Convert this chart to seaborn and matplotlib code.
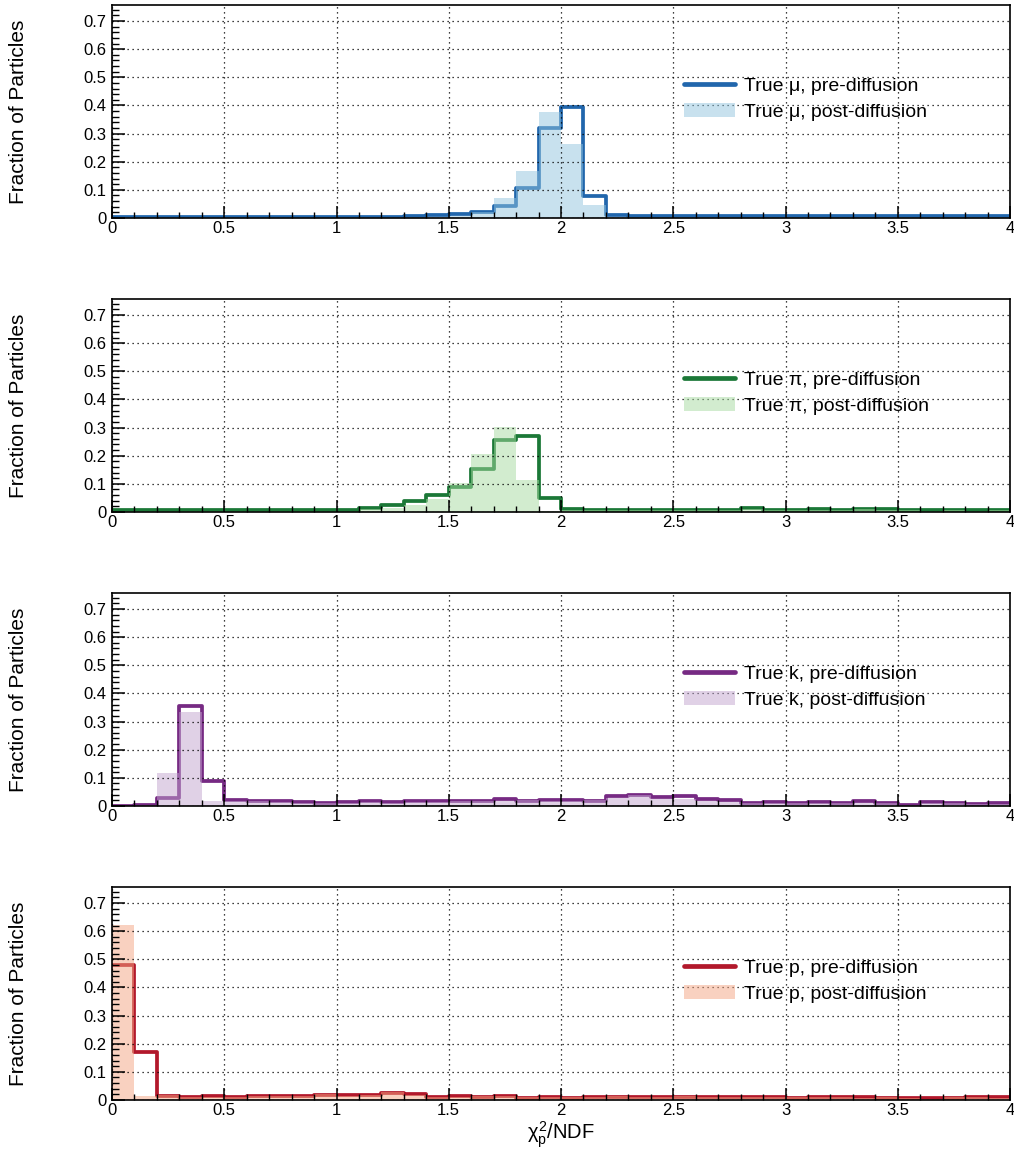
import numpy as np
import pandas as pd
import matplotlib
matplotlib.use("Agg")
import matplotlib.pyplot as plt
import seaborn as sns
from matplotlib.lines import Line2D
from matplotlib.patches import Patch
from matplotlib.ticker import MultipleLocator, FuncFormatter

# ---------------- data (fraction of particles per 0.1-wide bin, 0..4) ----------------
bin_edges = [round(0.1 * i, 1) for i in range(41)]

mu_pre = [0.003, 0.003, 0.003, 0.003, 0.003, 0.003, 0.003, 0.003, 0.003, 0.003,
          0.004, 0.004, 0.005, 0.007, 0.010, 0.014, 0.022, 0.043, 0.105, 0.319,
          0.395, 0.078, 0.010, 0.008, 0.007, 0.007, 0.008, 0.007, 0.007, 0.008,
          0.007, 0.007, 0.008, 0.007, 0.007, 0.008, 0.007, 0.007, 0.007, 0.007]
mu_post = [0.002, 0.002, 0.002, 0.002, 0.002, 0.002, 0.002, 0.002, 0.002, 0.002,
           0.002, 0.003, 0.003, 0.004, 0.005, 0.008, 0.020, 0.070, 0.168, 0.375,
           0.262, 0.046, 0.004, 0.005, 0.005, 0.005, 0.005, 0.005, 0.005, 0.005,
           0.005, 0.005, 0.005, 0.005, 0.005, 0.005, 0.005, 0.005, 0.005, 0.005]

pi_pre = [0.006, 0.006, 0.006, 0.006, 0.006, 0.006, 0.006, 0.006, 0.006, 0.008,
          0.006, 0.015, 0.025, 0.039, 0.060, 0.088, 0.152, 0.256, 0.270, 0.051,
          0.012, 0.007, 0.007, 0.007, 0.008, 0.008, 0.007, 0.008, 0.013, 0.008,
          0.007, 0.010, 0.008, 0.012, 0.009, 0.008, 0.008, 0.008, 0.007, 0.008]
pi_post = [0.004, 0.004, 0.004, 0.004, 0.004, 0.004, 0.004, 0.004, 0.004, 0.004,
           0.005, 0.010, 0.015, 0.025, 0.046, 0.102, 0.205, 0.303, 0.114, 0.005,
           0.006, 0.006, 0.006, 0.006, 0.006, 0.006, 0.006, 0.007, 0.010, 0.006,
           0.006, 0.008, 0.006, 0.009, 0.007, 0.006, 0.005, 0.006, 0.004, 0.006]

k_pre = [0.001, 0.003, 0.030, 0.355, 0.090, 0.021, 0.018, 0.017, 0.013, 0.012,
         0.013, 0.016, 0.014, 0.016, 0.018, 0.017, 0.018, 0.024, 0.018, 0.021,
         0.021, 0.019, 0.036, 0.038, 0.031, 0.034, 0.024, 0.020, 0.011, 0.015,
         0.012, 0.014, 0.011, 0.018, 0.011, 0.005, 0.014, 0.012, 0.008, 0.009]
k_post = [0.000, 0.002, 0.116, 0.335, 0.019, 0.016, 0.016, 0.015, 0.012, 0.011,
          0.012, 0.013, 0.012, 0.014, 0.015, 0.016, 0.017, 0.019, 0.020, 0.018,
          0.019, 0.020, 0.027, 0.040, 0.026, 0.024, 0.018, 0.014, 0.012, 0.012,
          0.011, 0.012, 0.010, 0.012, 0.010, 0.004, 0.011, 0.010, 0.008, 0.008]

p_pre = [0.480, 0.172, 0.015, 0.011, 0.014, 0.011, 0.014, 0.014, 0.014, 0.017,
         0.019, 0.017, 0.024, 0.021, 0.012, 0.013, 0.012, 0.014, 0.008, 0.012,
         0.008, 0.009, 0.010, 0.012, 0.010, 0.012, 0.010, 0.011, 0.011, 0.011,
         0.008, 0.009, 0.010, 0.009, 0.008, 0.008, 0.006, 0.008, 0.009, 0.009]
p_post = [0.622, 0.014, 0.018, 0.010, 0.012, 0.010, 0.013, 0.013, 0.015, 0.020,
          0.015, 0.017, 0.027, 0.016, 0.011, 0.012, 0.013, 0.013, 0.009, 0.010,
          0.009, 0.010, 0.014, 0.010, 0.011, 0.014, 0.011, 0.012, 0.009, 0.010,
          0.009, 0.011, 0.012, 0.008, 0.009, 0.006, 0.004, 0.009, 0.010, 0.008]

particle_labels = ["\u03bc", "\u03c0", "k", "p"]
pre_series = [mu_pre, pi_pre, k_pre, p_pre]
post_series = [mu_post, pi_post, k_post, p_post]
dark_colors = ["#2166ac", "#1b7837", "#762a83", "#b2182b"]
light_colors = ["#92c5de", "#a6dba0", "#c2a5cf", "#f4a582"]

# ---------------- style ----------------
sns.set_style("ticks")
plt.rcParams["font.family"] = ["Liberation Sans", "DejaVu Sans"]
plt.rcParams["mathtext.fontset"] = "custom"
plt.rcParams["mathtext.rm"] = "Liberation Sans"
plt.rcParams["mathtext.it"] = "Liberation Sans"
plt.rcParams["mathtext.bf"] = "Liberation Sans:bold"
for key in ["text.color", "axes.labelcolor", "xtick.color", "ytick.color",
            "axes.edgecolor"]:
    plt.rcParams[key] = "black"

W, H = 1014, 1157
fig = plt.figure(figsize=(W / 100, H / 100), dpi=100)

left_px, right_px = 112, 1010
panel_tops = [5, 299, 593, 887]
panel_h = 213

centers = [(bin_edges[j] + bin_edges[j + 1]) / 2 for j in range(40)]
fmt = FuncFormatter(lambda v, pos: f"{v:g}")

for i in range(4):
    top = panel_tops[i]
    ax = fig.add_axes([left_px / W, 1 - (top + panel_h) / H,
                       (right_px - left_px) / W, panel_h / H])
    df = pd.DataFrame({"x": centers, "pre": pre_series[i], "post": post_series[i]})

    sns.histplot(data=df, x="x", weights="pre", bins=list(bin_edges), element="step",
                 fill=False, color=dark_colors[i], linewidth=2.7, ax=ax, zorder=2)
    sns.histplot(data=df, x="x", weights="post", bins=list(bin_edges), element="step",
                 fill=True, color=light_colors[i], alpha=0.5, linewidth=0,
                 ax=ax, zorder=2.2)

    ax.set_xlim(0, 4)
    ax.set_ylim(0, 0.757)
    ax.xaxis.set_major_locator(MultipleLocator(0.5))
    ax.xaxis.set_minor_locator(MultipleLocator(0.1))
    ax.yaxis.set_major_locator(MultipleLocator(0.1))
    ax.yaxis.set_minor_locator(MultipleLocator(0.02))
    ax.xaxis.set_major_formatter(fmt)
    ax.yaxis.set_major_formatter(fmt)
    ax.tick_params(axis="both", which="both", direction="in", top=False,
                   right=False, colors="black", labelsize=12)
    ax.tick_params(axis="y", which="major", length=9, width=1.1, pad=4)
    ax.tick_params(axis="y", which="minor", length=5, width=1.0)
    ax.tick_params(axis="x", which="major", length=9, width=1.1, pad=2)
    ax.tick_params(axis="x", which="minor", length=4, width=1.0)
    for sp in ax.spines.values():
        sp.set_visible(True)
        sp.set_color("black")
        sp.set_linewidth(1.2)

    ax.set_axisbelow(False)
    ax.grid(True, which="major", color="black", linestyle=(0, (1, 3)),
            linewidth=0.9)

    ax.set_ylabel("Fraction of Particles", fontsize=15)
    ax.yaxis.set_label_coords(-0.094, 0.5)
    if i == 3:
        ax.set_xlabel(r"$\chi^{2}_{\mathrm{p}}$/NDF", fontsize=14.5, labelpad=1)
    else:
        ax.set_xlabel("")

    handles = [Line2D([0], [0], color=dark_colors[i], lw=3.4),
               Patch(facecolor=light_colors[i], alpha=0.5, linewidth=0)]
    labels = [f"True {particle_labels[i]}, pre-diffusion",
              f"True {particle_labels[i]}, post-diffusion"]
    ax.legend(handles, labels, loc="upper left", bbox_to_anchor=(0.637, 0.66),
              frameon=False, fontsize=14, handlelength=2.6,
              handletextpad=0.5, labelspacing=0.42, borderaxespad=0,
              borderpad=0)

fig.savefig("out.png", dpi=100)
